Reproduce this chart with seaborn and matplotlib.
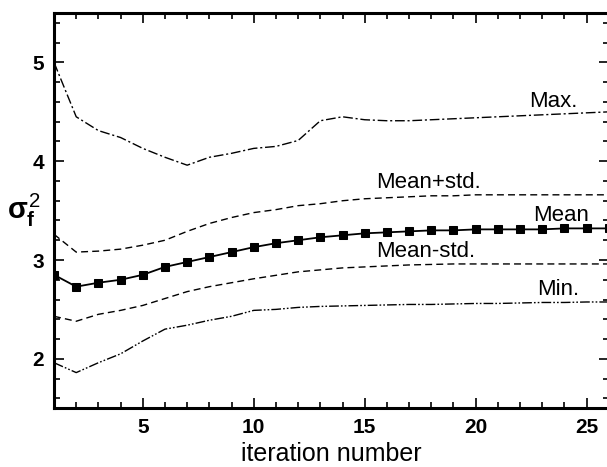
import numpy as np
import pandas as pd
import seaborn as sns
import matplotlib.pyplot as plt
from matplotlib.ticker import MultipleLocator

iterations = list(range(1, 27))
max_vals = [5.00, 4.45, 4.31, 4.24, 4.13, 4.04, 3.96, 4.04, 4.08, 4.13, 4.15, 4.21, 4.41,
            4.45, 4.42, 4.41, 4.41, 4.42, 4.43, 4.44, 4.45, 4.46, 4.47, 4.48, 4.49, 4.50]
mean_plus = [3.26, 3.08, 3.09, 3.11, 3.15, 3.20, 3.29, 3.37, 3.43, 3.48, 3.51, 3.55, 3.57,
             3.60, 3.62, 3.63, 3.64, 3.65, 3.65, 3.66, 3.66, 3.66, 3.66, 3.66, 3.66, 3.66]
mean_vals = [2.85, 2.73, 2.77, 2.80, 2.85, 2.93, 2.98, 3.03, 3.08, 3.13, 3.17, 3.20, 3.23,
             3.25, 3.27, 3.28, 3.29, 3.30, 3.30, 3.31, 3.31, 3.31, 3.31, 3.32, 3.32, 3.32]
mean_minus = [2.43, 2.38, 2.45, 2.49, 2.54, 2.61, 2.68, 2.73, 2.77, 2.81, 2.845, 2.88, 2.90,
              2.92, 2.93, 2.94, 2.95, 2.955, 2.96, 2.96, 2.96, 2.96, 2.96, 2.96, 2.96, 2.96]
min_vals = [1.96, 1.86, 1.96, 2.05, 2.18, 2.30, 2.34, 2.39, 2.43, 2.49, 2.50, 2.52, 2.53,
            2.535, 2.54, 2.545, 2.55, 2.55, 2.555, 2.56, 2.56, 2.565, 2.57, 2.57, 2.575, 2.575]

df = pd.DataFrame({"iter": iterations, "Max.": max_vals, "Mean+std.": mean_plus,
                   "Mean": mean_vals, "Mean-std.": mean_minus, "Min.": min_vals})

sns.set_style("ticks", {"axes.edgecolor": "black", "text.color": "black",
                        "xtick.color": "black", "ytick.color": "black",
                        "axes.labelcolor": "black"})
plt.rcParams['font.family'] = ['Liberation Sans', 'DejaVu Sans']
plt.rcParams['mathtext.fontset'] = 'custom'
plt.rcParams['mathtext.rm'] = 'Liberation Sans'
plt.rcParams['mathtext.it'] = 'Liberation Sans:bold'
plt.rcParams['mathtext.bf'] = 'Liberation Sans:bold'

fig = plt.figure(figsize=(6.07, 4.67), dpi=100)
ax = fig.add_axes([0.089, 0.126, 0.914, 0.846])

sns.lineplot(data=df, x="iter", y="Max.", ax=ax, color="black", lw=1.0,
             linestyle=(0, (7, 2, 1.5, 2)))
sns.lineplot(data=df, x="iter", y="Mean+std.", ax=ax, color="black", lw=1.0,
             linestyle=(0, (5, 3)))
sns.lineplot(data=df, x="iter", y="Mean", ax=ax, color="black", lw=1.3,
             marker="s", markersize=5.5, markeredgecolor="black")
sns.lineplot(data=df, x="iter", y="Mean-std.", ax=ax, color="black", lw=1.0,
             linestyle=(0, (5, 3)))
sns.lineplot(data=df, x="iter", y="Min.", ax=ax, color="black", lw=1.0,
             linestyle=(0, (7, 1.5, 1.2, 1.5, 1.2, 1.5)))

ax.set_xlim(1, 26)
ax.set_ylim(1.5, 5.5)
ax.xaxis.set_major_locator(MultipleLocator(5))
ax.xaxis.set_minor_locator(MultipleLocator(1))
ax.yaxis.set_major_locator(MultipleLocator(1))
ax.yaxis.set_minor_locator(MultipleLocator(0.2))
ax.tick_params(which="both", direction="in", top=True, right=True, width=1.2,
               color="black", labelcolor="black")
ax.tick_params(which="major", length=7, labelsize=15, pad=7)
ax.tick_params(which="minor", length=4)
for lab in ax.get_xticklabels() + ax.get_yticklabels():
    lab.set_fontweight("bold")
for s in ax.spines.values():
    s.set_linewidth(2.2)
    s.set_color("black")

ax.set_xlabel("iteration number", fontsize=18, labelpad=4, color="black")
ax.set_ylabel(r"$\sigma_f^2$", fontsize=21, rotation=0, color="black", va="center")
ax.yaxis.set_label_coords(-0.055, 0.5)

labels = [("Max.", 22.4, 4.50), ("Mean+std.", 15.5, 3.68), ("Mean", 22.6, 3.345),
          ("Mean-std.", 15.5, 2.975), ("Min.", 22.75, 2.59)]
for txt, x, y in labels:
    ax.text(x, y, txt, fontsize=16, ha="left", va="bottom", color="black")

fig.savefig("out.png", dpi=100)
